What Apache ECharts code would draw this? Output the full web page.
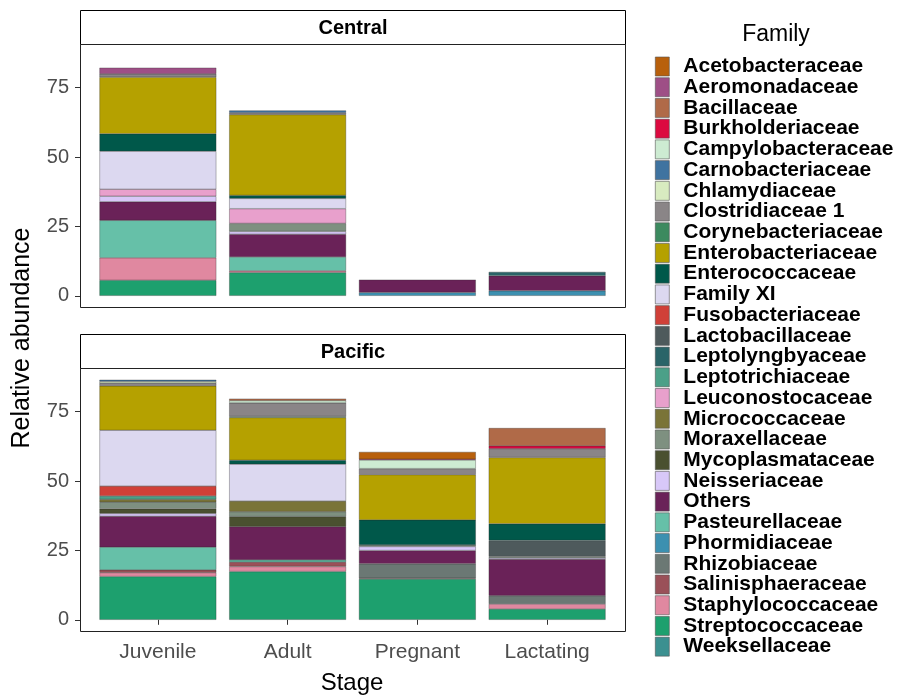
<!DOCTYPE html>
<html><head><meta charset="utf-8">
<script src="https://cdn.jsdelivr.net/npm/echarts@6/dist/echarts.min.js"></script>
<style>html,body{margin:0;padding:0;background:#fff}#c{width:899px;height:696px}</style>
</head><body><div id="c"></div>
<script>
const stages = ['Juvenile', 'Adult', 'Pregnant', 'Lactating'];
const regions = ['Central', 'Pacific'];
const yTicks = [0, 25, 50, 75];
const families = ['Acetobacteraceae','Aeromonadaceae','Bacillaceae','Burkholderiaceae','Campylobacteraceae','Carnobacteriaceae','Chlamydiaceae','Clostridiaceae 1','Corynebacteriaceae','Enterobacteriaceae','Enterococcaceae','Family XI','Fusobacteriaceae','Lactobacillaceae','Leptolyngbyaceae','Leptotrichiaceae','Leuconostocaceae','Micrococcaceae','Moraxellaceae','Mycoplasmataceae','Neisseriaceae','Others','Pasteurellaceae','Phormidiaceae','Rhizobiaceae','Salinisphaeraceae','Staphylococcaceae','Streptococcaceae','Weeksellaceae'];
const familyColors = ['#B8600C','#9E4F86','#B06A48','#DC0A40','#CDEBD2','#3F73A0','#D8EBC0','#8A8587','#3C8A5F','#B5A100','#00584A','#DCD8F0','#D04038','#4E5A5C','#2A6468','#4BA088','#E8A0CC','#7A7438','#7E9080','#4A5030','#D8C8F8','#6A2258','#66C0A8','#3C90B0','#6B7874','#9A5058','#E088A0','#1DA06E','#3B9090'];

// values in family order (Acetobacteraceae ... Weeksellaceae)
const centralJuvenile  = [0,2.2,0,0,0,0,0,1.2,0,20.4,6.3,13.7,0,0,0,0,2.5,0,0,0,2.0,6.7,13.5,0,0,0,8.1,5.6,0];
const centralAdult     = [0,0,0,0,0,0.8,0,0.7,0,29.1,1.1,3.7,0,0,0,0,5.3,0,2.9,0,1.0,8.2,5.0,0,0,0,0.6,8.4,0];
const centralPregnant  = [0,0,0,0,0,0,0,0,0,0,0,0,0,0,0,0,0,0,0,0,0,4.6,0,1.2,0,0,0,0,0];
const centralLactating = [0,0,0,0,0,0,0,0,0,0,0,0,0,0,1.4,0,0,0,0,0,0,5.4,0,1.8,0,0,0,0,0];
const pacificJuvenile  = [0,0,0,0,0,0.6,0.6,1.0,0,16.0,0,20.1,3.6,0,0,1.2,0,1.0,2.4,1.7,1.0,11.1,8.2,0,0,1.0,1.4,15.6,0];
const pacificAdult     = [0,0,0.7,0,0.8,0,0,4.9,0.4,15.4,1.4,13.3,0,0,0,0,0,3.8,1.8,3.6,0,12.0,0.8,0,0,1.6,1.8,17.4,0];
const pacificPregnant  = [2.6,0,0,0.3,3.1,0,0,2.2,0,16.3,9.0,0,0,0,0,0,0,0,0.6,0,1.4,4.8,0,0,5.2,0.3,0,14.7,0];
const pacificLactating = [0,0,6.4,1.0,0,0,0,3.2,0,23.9,6.0,0,0,5.8,0,0,0,0,0.5,0,0.5,13.1,0,0,3.0,0,1.8,3.9,0];

const panels = [
  [centralJuvenile, centralAdult, centralPregnant, centralLactating],
  [pacificJuvenile, pacificAdult, pacificPregnant, pacificLactating]
];

const FONT = 'Liberation Sans, Arial, sans-serif';
const series = [];
for (let f = families.length - 1; f >= 0; f--) {
  panels.forEach((bars, p) => {
    series.push({
      name: families[f], type: 'bar', stack: 'panel' + p,
      xAxisIndex: p, yAxisIndex: p, barWidth: '90%',
      itemStyle: { color: familyColors[f], borderColor: 'rgba(40,40,40,0.8)', borderWidth: 0.4 },
      emphasis: { disabled: true },
      data: bars.map(b => b[f] === 0 ? '-' : b[f])
    });
  });
}

const panelTops = [45, 369];
const grids = panelTops.map(t => ({ left: 93, width: 519, top: t, height: 263 }));
const xAxes = panelTops.map((t, i) => ({
  gridIndex: i, type: 'category', data: stages,
  axisLine: { show: false },
  axisTick: { show: i === 1, length: 5, alignWithLabel: true, lineStyle: { color: '#333' } },
  axisLabel: { show: i === 1, color: '#4D4D4D', fontSize: 21, fontFamily: FONT, margin: 10 }
}));
const yAxes = panelTops.map((t, i) => ({
  gridIndex: i, type: 'value', min: -4.4, max: 90.4, offset: 13,
  axisLine: { show: false }, splitLine: { show: false },
  axisTick: { show: true, length: 5, customValues: yTicks, lineStyle: { color: '#333' } },
  axisLabel: { customValues: yTicks, color: '#4D4D4D', fontSize: 20, fontFamily: FONT, margin: 11 }
}));

const graphics = [];
panelTops.forEach((t, i) => {
  graphics.push({ type: 'rect', z: 100, shape: { x: 80.5, y: t - 34.5, width: 545, height: 34 }, style: { fill: '#fff', stroke: '#000', lineWidth: 1 } });
  graphics.push({ type: 'text', z: 101, x: 353, y: t - 17, style: { text: regions[i], font: 'bold 20px ' + FONT, fill: '#000', align: 'center', verticalAlign: 'middle' } });
  graphics.push({ type: 'rect', z: 100, shape: { x: 80.5, y: t - 0.5, width: 545, height: 263 }, style: { fill: 'none', stroke: '#222', lineWidth: 1 } });
});
graphics.push({ type: 'text', x: 22, y: 338, rotation: Math.PI / 2, style: { text: 'Relative abundance', font: '25px ' + FONT, fill: '#000', align: 'center', verticalAlign: 'middle' } });
graphics.push({ type: 'text', x: 352, y: 683, style: { text: 'Stage', font: '24px ' + FONT, fill: '#000', align: 'center', verticalAlign: 'middle' } });
graphics.push({ type: 'text', x: 776, y: 35, style: { text: 'Family', font: '23px ' + FONT, fill: '#000', align: 'center', verticalAlign: 'middle' } });

const chart = echarts.init(document.getElementById('c'), null, { renderer: 'canvas' });
chart.setOption({
  animation: false,
  backgroundColor: '#fff',
  grid: grids, xAxis: xAxes, yAxis: yAxes,
  legend: {
    data: families, orient: 'vertical', left: 655, top: 56, padding: 0,
    icon: 'rect', itemWidth: 14, itemHeight: 19, itemGap: -0.28,
    selectedMode: false,
    itemStyle: { borderColor: '#555', borderWidth: 0.6 },
    textStyle: { fontSize: 21, fontWeight: 'bold', color: '#000', fontFamily: FONT, lineHeight: 20.68, padding: [0, 0, 0, 9] }
  },
  graphic: graphics,
  series: series
});
</script></body></html>
